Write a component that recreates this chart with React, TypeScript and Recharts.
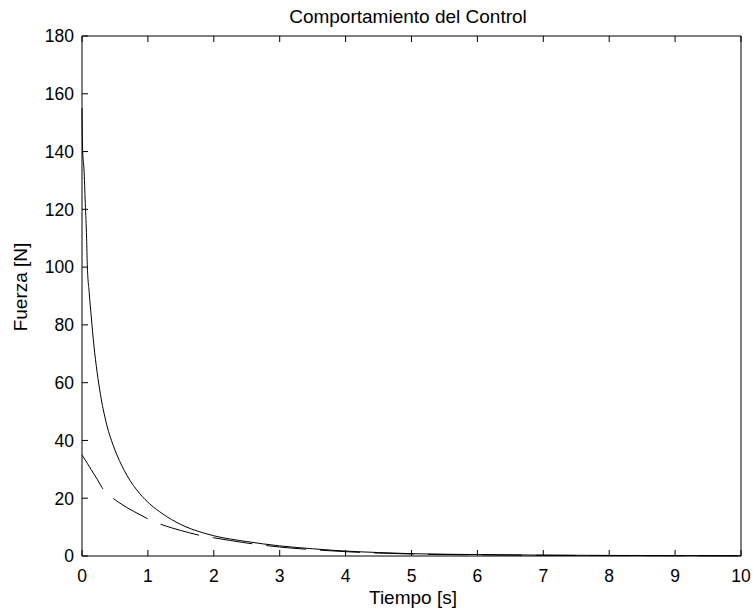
import { Line, LineChart, XAxis, YAxis } from "recharts";

const TIME = [
  0, 0.005, 0.01, 0.03, 0.05, 0.07, 0.08, 0.11, 0.14, 0.18, 0.23, 0.28, 0.3, 0.32, 0.38, 0.47, 0.53,
  0.68, 0.88, 1.03, 1.23, 1.49, 1.84, 2.0, 2.5, 3.0, 3.5, 4.0, 4.5, 5, 6, 7, 8, 9, 10,
];
const FORCE_SOLID = [
  155, 145, 140, 134, 122, 110, 101, 91, 83, 73, 63.5, 56, 53.3, 51, 45, 38.5, 35,
  28, 21.5, 18, 14.5, 11, 8, 7, 5, 3.5, 2.5, 1.7, 1.2, 0.8, 0.5, 0.3, 0.2, 0.15, 0.1,
];
const FORCE_DASHED = [
  35, 34.8, 34.6, 33.9, 33.2, 32.5, 32.1, 31, 29.9, 28.4, 26.6, 24.6, 23.8, 23.2, 21.8, 20, 19,
  16.8, 14.3, 12.5, 10.7, 8.9, 6.9, 6.3, 4.5, 3.1, 2.2, 1.5, 1.0, 0.7, 0.4, 0.25, 0.15, 0.1, 0.05,
];
const X_TICKS = [0, 1, 2, 3, 4, 5, 6, 7, 8, 9, 10];
const Y_TICKS = [0, 20, 40, 60, 80, 100, 120, 140, 160, 180];

const data = TIME.map((t, i) => ({ t, solid: FORCE_SOLID[i], dashed: FORCE_DASHED[i] }));

const FONT = '"Liberation Sans", Arial, sans-serif';
const TICK = 6;

const BottomTick = (p: any) => (
  <g>
    <line x1={p.x} x2={p.x} y1={p.y} y2={p.y - TICK} stroke="#000" />
    <text x={p.x} y={p.y + 26} textAnchor="middle" fontSize={17.5} fontFamily={FONT} fill="#000">
      {p.payload.value}
    </text>
  </g>
);
const TopTick = (p: any) => <line x1={p.x} x2={p.x} y1={p.y} y2={p.y + TICK} stroke="#000" />;
const LeftTick = (p: any) => (
  <g>
    <line x1={p.x} x2={p.x + TICK} y1={p.y} y2={p.y} stroke="#000" />
    <text x={p.x - 8} y={p.y + 6.3} textAnchor="end" fontSize={17.5} fontFamily={FONT} fill="#000">
      {p.payload.value}
    </text>
  </g>
);
const RightTick = (p: any) => <line x1={p.x} x2={p.x - TICK} y1={p.y} y2={p.y} stroke="#000" />;

export default function App() {
  return (
    <div style={{ position: "absolute", left: 0, top: 0, width: 755, height: 616, background: "#fff" }}>
      <LineChart width={755} height={616} data={data} margin={{ top: 0, right: 0, bottom: 0, left: 0 }}>
        <XAxis dataKey="t" type="number" domain={[0, 10]} ticks={X_TICKS} height={60} tickSize={0} tickMargin={0}
          axisLine={{ stroke: "#000" }} tickLine={false} tick={BottomTick} interval={0} />
        <XAxis xAxisId="top" orientation="top" dataKey="t" type="number" domain={[0, 10]} ticks={X_TICKS}
          height={36} tickSize={0} tickMargin={0} axisLine={{ stroke: "#000" }} tickLine={false} tick={TopTick}
          interval={0} />
        <YAxis type="number" domain={[0, 180]} ticks={Y_TICKS} width={82} tickSize={0} tickMargin={0}
          axisLine={{ stroke: "#000" }} tickLine={false} tick={LeftTick} interval={0} />
        <YAxis yAxisId="right" orientation="right" type="number" domain={[0, 180]} ticks={Y_TICKS} width={14}
          tickSize={0} tickMargin={0} axisLine={{ stroke: "#000" }} tickLine={false} tick={RightTick} interval={0} />
        <Line dataKey="solid" stroke="#000" strokeWidth={1} dot={false} type="monotone" isAnimationActive={false} />
        <Line dataKey="dashed" stroke="#000" strokeWidth={1} strokeDasharray="40 14" dot={false} type="monotone"
          isAnimationActive={false} />
      </LineChart>
      <svg width={755} height={616} style={{ position: "absolute", left: 0, top: 0, pointerEvents: "none" }}>
        <text x={408} y={22.5} textAnchor="middle" fontSize={19} fontFamily={FONT} fill="#000">
          Comportamiento del Control
        </text>
        <text x={413} y={604} textAnchor="middle" fontSize={19} fontFamily={FONT} fill="#000">
          Tiempo [s]
        </text>
        <text x={27} y={287} textAnchor="middle" fontSize={19} fontFamily={FONT} fill="#000"
          transform="rotate(-90 27 287)">
          Fuerza [N]
        </text>
      </svg>
    </div>
  );
}
